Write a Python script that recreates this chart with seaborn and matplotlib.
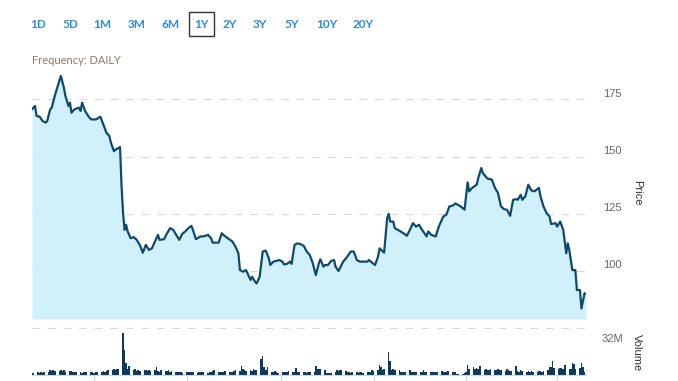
import numpy as np
import pandas as pd
import matplotlib
matplotlib.use("Agg")
import matplotlib.pyplot as plt
import matplotlib.transforms as mtransforms
from matplotlib.patches import Rectangle
import seaborn as sns

# ---------------- data ----------------
START = "2019-03-21"
day_offset = [
    0, 2, 3, 5, 7, 9, 10, 12, 13, 15, 17, 19, 21, 22, 24, 25, 26, 28, 29, 31,
    32, 33, 35, 37, 39, 42, 43, 45, 47, 49, 51, 52, 54, 55, 58, 59, 60, 61, 62, 63,
    65, 67, 69, 71, 73, 75, 77, 79, 81, 83, 84, 87, 89, 91, 93, 95, 97, 99, 101, 103,
    105, 106, 108, 111, 113, 116, 118, 119, 123, 125, 126, 129, 132, 134, 136, 137, 139, 141, 144, 145,
    147, 148, 150, 152, 154, 156, 157, 159, 161, 163, 165, 166, 168, 170, 171, 173, 175, 177, 179, 181,
    183, 185, 187, 189, 190, 192, 193, 195, 197, 199, 200, 202, 205, 207, 210, 212, 214, 216, 218, 221,
    222, 224, 226, 228, 229, 232, 234, 235, 236, 238, 239, 241, 244, 247, 249, 251, 253, 255, 257, 260,
    261, 263, 266, 268, 269, 271, 273, 275, 277, 279, 282, 285, 287, 288, 290, 293, 294, 296, 297, 300,
    303, 305, 307, 309, 311, 313, 315, 317, 319, 320, 322, 323, 325, 327, 329, 331, 334, 335, 337, 339,
    341, 342, 345, 346, 348, 350, 351, 352, 353, 354, 356, 358, 359, 361, 362, 364, 365,
]
price = [
    170.6, 172.1, 167.7, 167.4, 165.5, 164.8, 165.5, 170.6, 171.3, 176.5, 180.8, 185.2, 180.1, 176.5, 172.1, 173.5, 169.1, 170.6, 170.9, 171.3,
    169.9, 173.5, 169.9, 167.7, 166.2, 166.2, 166.5, 167.4, 164.0, 160.4, 158.9, 156.0, 152.3, 153.0, 154.1, 137.0, 125.3, 118.0, 120.2, 117.3,
    114.3, 114.8, 113.6, 111.4, 108.0, 111.4, 109.2, 109.9, 112.9, 115.8, 113.6, 113.9, 116.5, 118.7, 118.0, 115.8, 113.6, 116.2, 117.3, 118.7,
    119.7, 118.0, 113.9, 115.1, 115.1, 115.8, 114.3, 112.4, 112.4, 116.5, 115.8, 114.3, 112.9, 110.7, 107.7, 100.4, 99.7, 100.4, 96.1, 97.5,
    95.3, 94.6, 97.5, 108.5, 108.9, 105.6, 102.6, 104.1, 104.4, 104.8, 104.1, 102.9, 103.1, 104.1, 103.1, 111.4, 112.1, 111.7, 111.0, 108.5,
    107.0, 103.4, 98.2, 103.4, 105.1, 101.9, 102.6, 102.6, 104.4, 104.8, 101.9, 100.0, 104.1, 105.6, 108.5, 108.5, 104.8, 104.1, 104.1, 104.1,
    104.8, 103.7, 102.6, 106.3, 109.9, 108.0, 123.1, 125.0, 121.6, 121.6, 118.7, 118.0, 116.8, 115.4, 118.0, 120.9, 119.4, 120.2, 118.0, 115.1,
    117.3, 115.8, 115.1, 119.4, 120.9, 123.8, 124.6, 128.2, 128.5, 129.5, 128.4, 126.8, 138.7, 134.8, 136.3, 137.7, 140.6, 145.0, 142.8, 140.4,
    139.9, 136.3, 134.1, 128.2, 127.0, 126.7, 124.1, 131.1, 131.4, 131.1, 133.3, 131.1, 132.6, 137.7, 135.2, 134.8, 136.3, 132.6, 128.2, 125.3,
    123.8, 120.5, 120.9, 119.4, 121.6, 118.0, 112.9, 107.7, 112.1, 109.2, 100.4, 100.4, 91.7, 91.7, 83.6, 90.2, 90.2,
]
# daily volume, millions of shares (one value per business day from START)
volume_m = [
    2.0, 1.5, 2.5, 2.0, 3.0, 2.0, 2.5, 3.0,
    4.8, 4.0, 5.0, 4.2, 4.5, 5.0, 4.0, 4.8, 3.5, 4.5, 4.0,
    3.0, 2.5, 3.5, 2.8, 2.2, 3.0, 3.5, 2.5, 3.0, 2.8,
    2.0, 3.0, 3.5, 2.5, 4.0, 3.5,
    4.5, 5.5, 5.0, 6.0, 5.0, 6.5, 6.0,
    46.0, 27.6, 13.0, 6.0, 9.6,
    5.0, 6.0, 4.5, 5.5, 4.0, 5.0, 5.5, 4.5, 5.0, 4.0, 5.5, 8.5, 4.0, 3.5, 5.0, 4.5, 4.0, 5.0, 3.5, 4.5,
    3.0, 2.5, 3.5, 3.0, 2.0, 3.0, 2.5, 3.5, 2.8, 3.0, 2.2, 3.0, 3.5, 2.5, 3.0, 2.0, 3.5, 3.0, 4.0, 5.0,
    3.0, 2.5, 3.5, 3.0, 4.5, 3.0, 2.5, 3.5, 4.0,
    5.0, 4.5, 10.0,
    6.0, 5.0, 4.5, 5.5, 4.0, 6.0, 5.0, 5.5,
    17.6, 21.0, 8.5, 5.0, 8.5,
    3.0, 2.5, 4.0, 3.0, 2.2, 3.5, 3.0, 2.5, 3.0, 4.0, 3.0, 2.5, 7.0, 3.0, 2.5, 3.5, 3.0, 2.2, 3.0, 3.5,
    3.0, 9.6, 6.6, 6.0, 6.6, 5.5,
    2.0, 2.2, 1.8, 2.0, 2.5,
    4.8, 4.5, 5.0, 4.8, 4.2,
    2.5, 3.0, 2.0, 2.8, 3.0, 2.2, 2.5, 3.0, 2.0, 2.5, 3.0, 2.8,
    5.0, 4.5, 5.5, 11.0, 8.5, 5.0,
    6.0, 25.0, 14.7,
    5.5, 6.0, 5.0, 5.5,
    3.0, 2.5, 3.5, 3.0, 4.8, 3.0, 2.5, 3.0, 3.5, 2.8, 3.0, 4.8, 3.0, 2.5, 3.0, 3.5, 3.0, 2.5, 3.0, 4.0,
    3.0, 2.8, 3.5, 4.5, 3.0,
    3.5, 3.5, 1.0, 1.2, 1.0, 2.0,
    2.5, 11.0, 6.0, 8.0, 6.5, 7.0, 6.0, 9.5,
    5.5, 6.0, 5.0, 5.5, 6.0, 5.0, 5.5, 6.0, 5.0, 5.5, 4.5, 6.0, 5.0,
    4.5, 4.5, 10.0,
    4.0, 3.5, 5.0, 4.0, 3.0, 4.5, 3.5, 4.0, 3.0, 3.5, 4.5, 4.0, 3.0, 4.5, 5.0,
    8.5, 8.0, 14.7,
    7.0, 6.5, 7.5, 7.0, 6.0,
    11.0, 6.6, 6.6, 13.0, 12.0, 6.6, 7.0, 13.0, 8.5, 3.5,
]
range_buttons = ["1D", "5D", "1M", "3M", "6M", "1Y", "2Y", "3Y", "5Y", "10Y", "20Y"]
selected_range = "1Y"
price_ticks = [75, 100, 125, 150, 175]
price_tick_labels = ["", "100", "125", "150", "175"]
volume_label = "32M"
month_ticks = ["2019-05-01", "2019-07-01", "2019-09-01", "2019-11-01", "2020-01-01", "2020-03-01"]
frequency_text = "Frequency: DAILY"

# ---------------- frames ----------------
start = pd.Timestamp(START)
df = pd.DataFrame({"date": start + pd.to_timedelta(day_offset, unit="D"), "price": price})
vdf = pd.DataFrame({"date": pd.bdate_range(start, periods=len(volume_m)), "volume": volume_m})

# ---------------- style ----------------
sns.set_theme(style="white")
plt.rcParams["font.family"] = ["Liberation Sans", "DejaVu Sans"]

W, H = 678, 381
fig = plt.figure(figsize=(W / 100, H / 100), dpi=100)
fig.patch.set_facecolor("white")


def rect(l, t, r, b):
    return [l / W, 1 - b / H, (r - l) / W, (b - t) / H]


ax = fig.add_axes(rect(32, 69.5, 586, 329.4))
axv = fig.add_axes(rect(32, 332.7, 586, 374.7))

x0, x1 = df["date"].iloc[0], df["date"].iloc[-1]

# price panel
for t in price_ticks:
    ax.axhline(t, color="#d9d9d9", lw=0.8, ls=(0, (7, 7)), zorder=0)
ax.fill_between(df["date"], df["price"], 79, color="#d0f1fc", lw=0, zorder=1)
sns.lineplot(data=df, x="date", y="price", ax=ax, color="#0f4a6d", lw=1.6, zorder=2)
ax.set_xlim(x0, x1)
ax.set_ylim(74.5, 188)
ax.set_xticks([])
ax.set_xlabel("")
ax.set_ylabel("")
ax.yaxis.tick_right()
ax.set_yticks(price_ticks, price_tick_labels)
ax.tick_params(axis="y", length=0, pad=12, labelsize=8, labelcolor="#666666")
offset = mtransforms.ScaledTranslation(0, 6.6 / 100, fig.dpi_scale_trans)
for lab in ax.get_yticklabels():
    lab.set_transform(lab.get_transform() + offset)
for s in ax.spines.values():
    s.set_visible(False)
ax.set_facecolor("none")

# volume panel
axv.bar(vdf["date"], vdf["volume"], width=1.0, color="#0d3a5c", lw=0)
axv.set_xlim(x0, x1)
axv.set_ylim(0, 46.5)
axv.set_yticks([])
axv.set_xticks(pd.to_datetime(month_ticks))
axv.set_xticklabels([""] * len(month_ticks))
axv.tick_params(axis="x", length=4.5, width=0.8, color="#ccd6eb", direction="out", bottom=True)
for k, s in axv.spines.items():
    s.set_visible(k == "bottom")
axv.spines["bottom"].set_color("#ccd6eb")
axv.spines["bottom"].set_linewidth(0.8)
axv.set_facecolor("none")

# axis titles / labels
fig.text(612 / W, 1 - 339 / H, volume_label, ha="center", va="center", fontsize=8, color="#666666")
fig.text(637 / W, 1 - 193 / H, "Price", rotation=270, ha="center", va="center", fontsize=8, color="#333333")
fig.text(637 / W, 1 - 353 / H, "Volume", rotation=270, ha="center", va="center", fontsize=8, color="#333333")

# range buttons
btn_x = [37.7, 70, 102.7, 136.7, 170.7, 201.3, 230, 260, 291.7, 326.7, 363.3]
for lbl, bx in zip(range_buttons, btn_x):
    fig.text(bx / W, 1 - 25 / H, lbl, ha="center", va="center", fontsize=8.5,
             color="#2f8ad6", family=["Lato", "DejaVu Sans"], weight="bold")
    if lbl == selected_range:
        fig.add_artist(Rectangle((188.7 / W, 1 - 36 / H), 25.3 / W, 24.3 / H,
                                 transform=fig.transFigure, fill=False, ec="#333333", lw=1))

fig.text(31.7 / W, 1 - 61 / H, frequency_text, ha="left", va="center", fontsize=8,
         color="#8a7a6e", family=["Lato", "DejaVu Sans"])

fig.savefig("out.png", dpi=100, facecolor="white")
